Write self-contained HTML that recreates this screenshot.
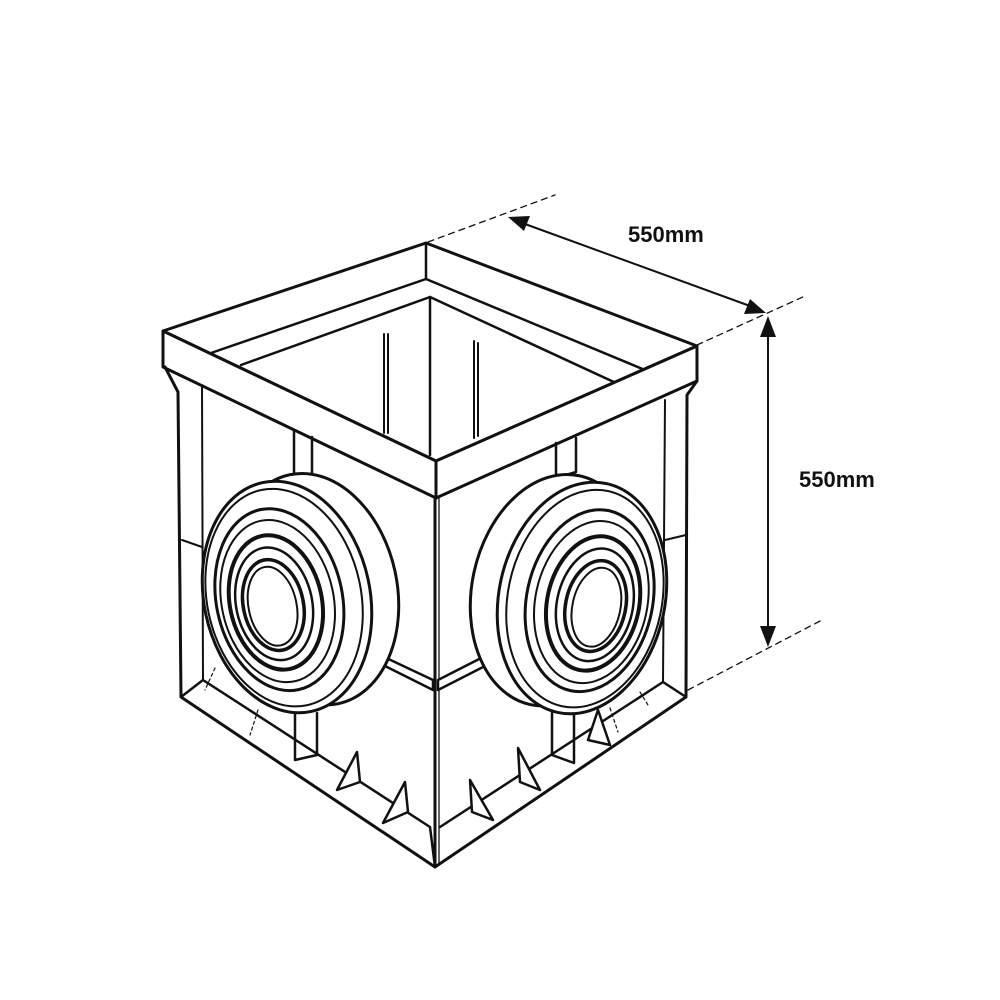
<!DOCTYPE html>
<html><head><meta charset="utf-8"><style>
html,body{margin:0;padding:0;background:#fff;}
svg{display:block}
text{font-family:"Liberation Sans",sans-serif;font-weight:bold;font-size:22px;fill:#111;stroke:none}
</style></head><body>
<svg width="1000" height="1000" viewBox="0 0 1000 1000" fill="none" stroke="#111" stroke-width="3" stroke-linejoin="round" stroke-linecap="round">
<!-- dimension dashed lines -->
<g stroke-width="1.3" stroke-dasharray="6,5">
<line x1="428" y1="242" x2="555" y2="195"/>
<line x1="697" y1="345" x2="805" y2="296"/>
<line x1="688" y1="690" x2="822" y2="620"/>
</g>
<line x1="525" y1="224" x2="750" y2="306" stroke-width="2"/>
<polygon points="508,217 530,216 524,231" fill="#111" stroke="none"/>
<polygon points="766,313 744,314 750,299" fill="#111" stroke="none"/>
<line x1="768" y1="335" x2="768" y2="628" stroke-width="2"/>
<polygon points="768,316 760,337 776,337" fill="#111" stroke="none"/>
<polygon points="768,647 760,626 776,626" fill="#111" stroke="none"/>
<text x="628" y="242">550mm</text>
<text x="799" y="487">550mm</text>

<!-- rim top face -->
<polygon points="163,331 426,243 697,346 436,461"/>
<line x1="426" y1="243" x2="426" y2="279" stroke-width="2.5"/>
<polyline points="211,353 426,279 645,370" stroke-width="2.5"/>
<!-- inner opening -->
<polyline points="241,365 430,297 616,383" stroke-width="2.5"/>
<line x1="430" y1="297" x2="430" y2="455" stroke-width="2.5"/>
<path d="M384 334 L384 433 M388 334 L388 433" stroke-width="2"/>
<path d="M474 341 L474 438 M478 343 L478 436" stroke-width="2"/>
<!-- rim sides -->
<polygon points="163,331 436,461 436,498 163,367" fill="#fff"/>
<polygon points="436,461 697,346 697,381 436,498" fill="#fff"/>

<!-- body -->
<path d="M165 367 L178 392 L181 697 L435 867 L686 697 L687 395 L697 381"/>
<line x1="435" y1="498" x2="435" y2="867"/>
<line x1="439" y1="498" x2="439" y2="865" stroke-width="1.3"/>
<line x1="202" y1="385" x2="203" y2="680" stroke-width="2"/>
<line x1="665" y1="400" x2="663" y2="682" stroke-width="2"/>
<line x1="182" y1="540" x2="202" y2="547" stroke-width="2"/>
<line x1="665" y1="540" x2="686" y2="535" stroke-width="2"/>
<!-- base ledge -->
<path d="M181 697 L203 680 L430 827 L435 867" stroke-width="2.5"/>
<path d="M686 697 L663 682 L440 827" stroke-width="2.5"/>
<path d="M215 668 L205 690 M258 710 L250 735 M610 708 L618 732 M640 692 L648 705" stroke-width="1.2" stroke-dasharray="3,3"/>
<!-- stubs -->
<path d="M294 430 L294 478 L312 483 L312 437" stroke-width="2.5"/>
<path d="M556 443 L556 478 L576 472 L576 438" stroke-width="2.5"/>
<path d="M295 713 L295 760 L317 755 L317 713" stroke-width="2.5"/>
<path d="M552 713 L552 755 L574 763 L574 713" stroke-width="2.5"/>
<path d="M380 655 L433 680 L433 690 L383 665 Z" stroke-width="2.5" fill="#fff"/>
<path d="M438 680 L487 655 L487 665 L438 690 Z" stroke-width="2.5" fill="#fff"/>
<!-- teeth -->
<g stroke-width="2.5" fill="#fff">
<polygon points="337,790 357,752 360,782"/>
<polygon points="383,823 405,782 408,812"/>
<polygon points="470,780 493,820 472,812"/>
<polygon points="518,748 540,790 520,782"/>
<polygon points="588,740 598,710 610,745"/>
</g>

<!-- left socket -->
<g transform="translate(287,597) rotate(-12)">
<ellipse cx="28" cy="-2" rx="83" ry="117" fill="#fff"/>
<ellipse rx="83" ry="117" fill="#fff"/>
<ellipse cx="-3" cy="0" rx="77" ry="110" stroke-width="2"/>
<ellipse cx="-8" cy="1" rx="63" ry="92"/>
<ellipse cx="-10" cy="2" rx="56" ry="82" stroke-width="2"/>
<ellipse cx="-12" cy="3" rx="46" ry="68" stroke-width="4"/>
<ellipse cx="-14" cy="4" rx="38" ry="57" stroke-width="2.5"/>
<ellipse cx="-15" cy="5" rx="30" ry="46" stroke-width="3.5"/>
<ellipse cx="-16" cy="6" rx="24" ry="40" stroke-width="2"/>
</g>
<!-- right socket -->
<g transform="translate(582,598) rotate(12)">
<ellipse cx="-28" cy="-2" rx="83" ry="117" fill="#fff"/>
<ellipse rx="83" ry="117" fill="#fff"/>
<ellipse cx="3" cy="0" rx="77" ry="110" stroke-width="2"/>
<ellipse cx="8" cy="1" rx="63" ry="92"/>
<ellipse cx="10" cy="2" rx="56" ry="82" stroke-width="2"/>
<ellipse cx="12" cy="3" rx="46" ry="68" stroke-width="4"/>
<ellipse cx="14" cy="4" rx="38" ry="57" stroke-width="2.5"/>
<ellipse cx="15" cy="5" rx="30" ry="46" stroke-width="3.5"/>
<ellipse cx="16" cy="6" rx="24" ry="40" stroke-width="2"/>
</g>
</svg>
</body></html>
